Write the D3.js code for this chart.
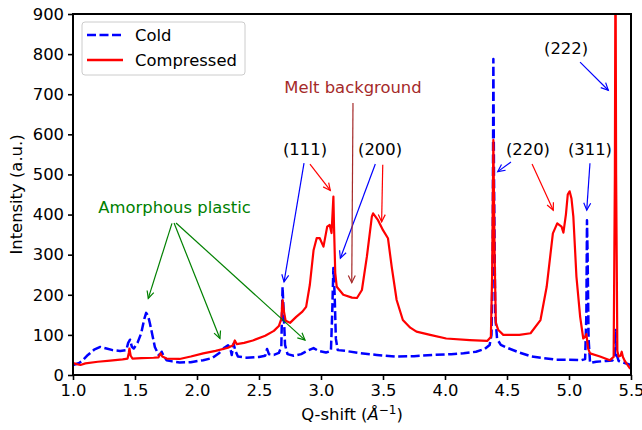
<!DOCTYPE html>
<html>
<head>
<meta charset="utf-8">
<script src="https://cdn.jsdelivr.net/npm/d3@7"></script>
<style>
  body { margin: 0; background: #fff; }
  text { font-family: "DejaVu Sans", sans-serif; }
</style>
</head>
<body>
<div id="chart-area"></div>
<script>

// values
let qCold = [1.00,1.05,1.08,1.12,1.17,1.22,1.27,1.32,1.38,1.43,1.445,1.46,1.475,1.49,1.52,1.55,1.575,1.59,1.605,1.62,1.64,1.66,1.69,1.705,1.715,1.73,1.755,1.80,1.86,1.95,2.05,2.12,2.18,2.22,2.25,2.27,2.28,2.295,2.31,2.33,2.40,2.50,2.55,2.565,2.58,2.62,2.66,2.68,2.69,2.70,2.71,2.73,2.78,2.84,2.90,2.94,2.98,3.04,3.08,3.09,3.10,3.11,3.12,3.135,3.20,3.30,3.45,3.60,3.75,3.90,4.05,4.15,4.25,4.32,4.36,4.375,4.385,4.39,4.395,4.405,4.42,4.45,4.50,4.60,4.70,4.80,4.90,5.00,5.10,5.13,5.14,5.145,5.15,5.158,5.17,5.22,5.30,5.35,5.37,5.377,5.385,5.40,5.45,5.50];
let iCold = [25,30,37,50,63,70,66,62,60,62,80,88,70,66,80,104,140,155,148,129,100,70,50,52,58,48,37,34,31,32,37,42,55,68,74,65,50,78,60,46,43,45,48,65,52,50,55,70,220,150,75,52,48,52,62,67,60,56,60,150,267,200,90,62,60,55,50,46,47,50,52,54,58,65,75,100,300,788,500,150,90,75,68,56,46,42,38,38,37,40,150,386,300,90,30,33,35,36,50,112,50,35,30,25];

let qComp = [1.00,1.03,1.06,1.10,1.20,1.30,1.40,1.44,1.45,1.455,1.465,1.48,1.55,1.65,1.69,1.705,1.72,1.755,1.86,1.95,2.05,2.15,2.25,2.29,2.305,2.32,2.38,2.45,2.55,2.62,2.66,2.68,2.69,2.70,2.715,2.75,2.80,2.85,2.88,2.91,2.94,2.965,2.99,3.02,3.05,3.07,3.085,3.10,3.105,3.115,3.127,3.18,3.25,3.29,3.33,3.37,3.41,3.42,3.46,3.50,3.54,3.57,3.61,3.66,3.72,3.77,3.88,4.01,4.20,4.34,4.37,4.38,4.39,4.40,4.41,4.43,4.47,4.60,4.69,4.77,4.82,4.87,4.905,4.94,4.955,4.975,4.99,5.005,5.02,5.035,5.06,5.09,5.115,5.13,5.14,5.155,5.17,5.25,5.33,5.36,5.37,5.375,5.38,5.39,5.40,5.415,5.425,5.435,5.45,5.49,5.50];
let iComp = [30,27,25,29,33,36,39,41,55,66,48,41,42,43,44,54,46,41,40,46,54,60,68,74,86,77,80,86,98,110,122,140,187,160,135,130,145,158,170,225,311,341,341,320,370,374,354,445,370,254,220,200,193,192,212,295,395,403,386,361,341,270,187,137,118,108,100,91,87,85,95,250,586,300,130,112,100,100,104,137,220,353,378,370,355,400,450,458,440,395,245,145,91,95,102,65,54,46,37,45,500,1100,500,60,46,48,58,45,35,17,15];

let xTicks = [1.0,1.5,2.0,2.5,3.0,3.5,4.0,4.5,5.0,5.5];
let yTicks = [0,100,200,300,400,500,600,700,800,900];

// peak labels: text position, then arrows [fromX, fromY, toX, toY, colour]
let labels = ["(111)", "(200)", "(220)", "(311)", "(222)", "Melt background", "Amorphous plastic"];
let labelX = [2.871, 3.476, 4.669, 5.169, 4.976, 3.258, 1.819];
let labelY = [548, 548, 548, 548, 800, 703, 403];
let labelColor = ["black", "black", "black", "black", "black", "#a52a2a", "green"];
let arrows = [
	[2.863, 528, 2.702, 232, "blue"],
	[2.911, 526, 3.075, 460, "red"],
	[3.438, 526, 3.156, 291, "blue"],
	[3.498, 524, 3.489, 382, "red"],
	[4.532, 531, 4.425, 507, "blue"],
	[4.702, 526, 4.873, 411, "red"],
	[5.169, 528, 5.143, 411, "blue"],
	[5.089, 780, 5.317, 710, "blue"],
	[3.258, 678, 3.248, 230, "#a52a2a"],
	[1.798, 378, 1.607, 191, "green"],
	[1.815, 379, 2.185, 91, "green"],
	[1.831, 379, 2.871, 87, "green"]
];

let fs = "16.4px";

let margin = {top: 14, right: 11, bottom: 55, left: 73};
let width = 642 - margin.left - margin.right;
let height = 430 - margin.top - margin.bottom;

let svg = d3.select("#chart-area").append("svg")
		.attr("width", 642)
		.attr("height", 430)
	.append("g")
		.attr("transform", "translate(" + margin.left + "," + margin.top + ")");

let x = d3.scaleLinear().domain([1.0, 5.5]).range([0, width]);
let y = d3.scaleLinear().domain([0, 900]).range([height, 0]);

svg.append("clipPath").attr("id", "clip")
	.append("rect").attr("width", width).attr("height", height);

let line = d3.line()
	.x(d => x(d[0]))
	.y(d => y(d[1]));

let cold = qCold.map((q, i) => [q, iCold[i]]);
let comp = qComp.map((q, i) => [q, iComp[i]]);

svg.append("path")
	.attr("clip-path", "url(#clip)")
	.attr("fill", "none")
	.attr("stroke", "blue")
	.attr("stroke-width", 2.5)
	.attr("stroke-dasharray", "9,3.5")
	.attr("stroke-linejoin", "round")
	.attr("d", line(cold));

svg.append("path")
	.attr("clip-path", "url(#clip)")
	.attr("fill", "none")
	.attr("stroke", "red")
	.attr("stroke-width", 2.2)
	.attr("stroke-linejoin", "round")
	.attr("d", line(comp));

// axes
let xAxis = d3.axisBottom(x).tickValues(xTicks).tickFormat(d3.format(".1f")).tickSize(5).tickPadding(4);
let yAxis = d3.axisLeft(y).tickValues(yTicks).tickSize(5).tickPadding(4);

let gx = svg.append("g").attr("transform", "translate(0," + height + ")").call(xAxis);
let gy = svg.append("g").call(yAxis);

[gx, gy].forEach(g => {
	g.select(".domain").remove();
	g.selectAll("line").attr("stroke", "black").attr("stroke-width", 1.6);
	g.selectAll("text").attr("font-size", fs).attr("fill", "black")
		.style("font-family", "DejaVu Sans");
});

svg.append("rect")
	.attr("width", width).attr("height", height)
	.attr("fill", "none").attr("stroke", "black").attr("stroke-width", 2);

svg.append("text")
	.attr("x", width / 2).attr("y", height + 45)
	.attr("text-anchor", "middle")
	.attr("font-size", fs)
	.html('Q-shift (<tspan font-style="italic">Å</tspan><tspan dy="-6" font-size="12px">−1</tspan><tspan dy="6">)</tspan>');

svg.append("text")
	.attr("transform", "translate(" + (16 - margin.left) + "," + (height / 2) + ") rotate(-90)")
	.attr("text-anchor", "middle")
	.attr("dy", "0.35em")
	.attr("font-size", fs)
	.text("Intensity (a.u.)");

// annotations
function drawArrow(a) {
	let x0 = x(a[0]), y0 = y(a[1]), x1 = x(a[2]), y1 = y(a[3]);
	let ang = Math.atan2(y1 - y0, x1 - x0);
	let hl = 8, hw = 0.45;
	svg.append("line")
		.attr("x1", x0).attr("y1", y0).attr("x2", x1).attr("y2", y1)
		.attr("stroke", a[4]).attr("stroke-width", 1.2);
	svg.append("path")
		.attr("fill", "none").attr("stroke", a[4]).attr("stroke-width", 1.2)
		.attr("d", "M" + (x1 - hl * Math.cos(ang - hw)) + "," + (y1 - hl * Math.sin(ang - hw)) +
			"L" + x1 + "," + y1 +
			"L" + (x1 - hl * Math.cos(ang + hw)) + "," + (y1 - hl * Math.sin(ang + hw)));
}
arrows.forEach(drawArrow);

labels.forEach((t, i) => {
	svg.append("text")
		.attr("x", x(labelX[i])).attr("y", y(labelY[i]))
		.attr("text-anchor", "middle")
		.attr("font-size", fs)
		.attr("fill", labelColor[i])
		.text(t);
});

// legend
let legend = svg.append("g").attr("transform", "translate(9,8)");
legend.append("rect")
	.attr("width", 163).attr("height", 53).attr("rx", 3)
	.attr("fill", "white").attr("fill-opacity", 0.8)
	.attr("stroke", "#cccccc").attr("stroke-width", 1);
let legendNames = ["Cold", "Compressed"];
let legendColors = ["blue", "red"];
legendNames.forEach((n, i) => {
	let ly = 13 + i * 25;
	legend.append("line")
		.attr("x1", 5).attr("x2", 41).attr("y1", ly).attr("y2", ly)
		.attr("stroke", legendColors[i])
		.attr("stroke-width", 2.5)
		.attr("stroke-dasharray", i == 0 ? "9,3.5" : null);
	legend.append("text")
		.attr("x", 53).attr("y", ly).attr("dy", "0.35em")
		.attr("font-size", fs)
		.text(n);
});

</script>
</body>
</html>
